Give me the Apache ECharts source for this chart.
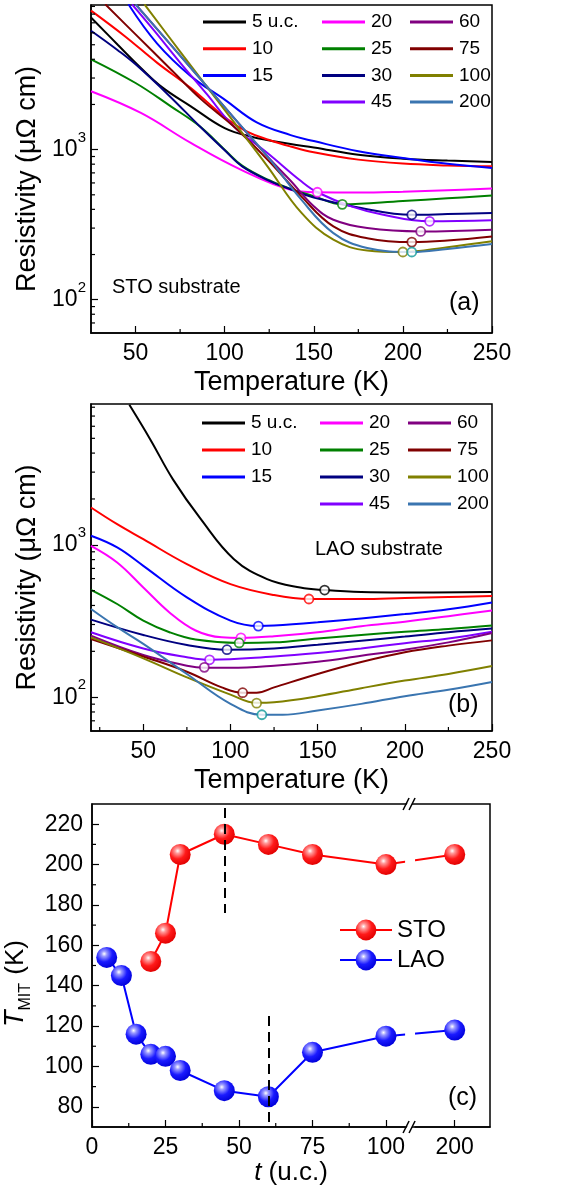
<!DOCTYPE html>
<html>
<head>
<meta charset="utf-8">
<script src="https://cdn.jsdelivr.net/npm/echarts@6/dist/echarts.min.js"></script>
<style>
  html, body { margin: 0; padding: 0; background: #fff; }
  #main { width: 567px; height: 1187px; }
</style>
</head>
<body>
<div id="main"></div>
<script>
const FONT = '"Liberation Sans", Arial, Helvetica, sans-serif';

// film thickness (u.c.) and colours
const thick = [5, 10, 15, 20, 25, 30, 45, 60, 75, 100, 200];
const lineColors = ['#000000', '#ff0000', '#0000ff', '#ff00ff', '#008000', '#000080',
  '#8000ff', '#800080', '#800000', '#808000', '#3a75b0'];
const circleColors = ['#000000', '#ff0000', '#0000ff', '#ff00ff', '#008000', '#000080',
  '#a000ff', '#800080', '#800000', '#808000', '#109a9a'];

// (a) STO substrate, [T (K), rho (uOhm cm)]
const sto5 = [[25, 7600], [40, 5000], [53, 3500], [65, 2600], [81, 1944], [100, 1390], [115, 1220], [137, 1090], [150, 1035], [175, 926], [200, 871], [225, 845], [250, 828]];
const sto10 = [[25, 8440], [44, 5700], [62, 3800], [81, 2570], [100, 1650], [112, 1330], [125, 1160], [137, 1050], [150, 960], [175, 858], [200, 807], [225, 785], [250, 774]];
const sto15 = [[46, 9300], [62, 5110], [81, 3090], [100, 2154], [118, 1520], [137, 1250], [150, 1140], [175, 975], [200, 880], [225, 805], [250, 755]];
const sto20 = [[25, 2450], [53, 1755], [81, 1108], [109, 736], [137, 541], [152, 520], [175, 518], [200, 525], [225, 537], [250, 550]];
const sto25 = [[25, 4000], [50, 2780], [70, 1935], [86, 1430], [100, 1000], [110, 780], [125, 625], [137, 548], [150, 490], [166, 432], [200, 455], [225, 474], [250, 494]];
const sto30 = [[25, 6200], [40, 4600], [50, 3700], [69, 2280], [86, 1430], [100, 990], [110, 770], [125, 620], [137, 545], [150, 480], [175, 412], [205, 368], [225, 372], [250, 378]];
const sto45 = [[48, 9300], [60, 6300], [75, 3800], [90, 2340], [105, 1430], [124, 950], [143, 615], [152, 520], [171, 419], [189, 368], [215, 333], [250, 338]];
const sto60 = [[50, 9300], [75, 4230], [100, 1920], [124, 900], [137, 620], [150, 420], [161, 341], [180, 300], [210, 285], [250, 293]];
const sto75 = [[33, 9300], [50, 5860], [70, 3410], [87, 2154], [105, 1430], [124, 858], [143, 488], [161, 308], [180, 257], [205, 242], [225, 248], [250, 264]];
const sto100 = [[55, 9300], [75, 4500], [90, 2630], [105, 1535], [124, 774], [143, 380], [161, 251], [180, 213], [200, 208], [225, 224], [250, 245]];
const sto200 = [[50, 9300], [75, 4230], [90, 2640], [105, 1640], [124, 903], [143, 464], [161, 278], [180, 221], [205, 208], [225, 218], [250, 235]];

// (b) LAO substrate
const lao5 = [[42, 8300], [54, 4920], [67, 2690], [83, 1473], [102, 805], [121, 596], [140, 525], [154, 505], [175, 490], [200, 487], [250, 490]];
const lao10 = [[20, 1758], [35, 1366], [50, 1089], [75, 747], [100, 552], [125, 468], [145, 441], [175, 441], [200, 448], [225, 455], [250, 461]];
const lao15 = [[20, 1146], [35, 961], [50, 728], [75, 452], [100, 318], [116, 293], [125, 295], [150, 310], [175, 329], [200, 351], [225, 378], [250, 419]];
const lao20 = [[20, 985], [35, 766], [50, 525], [65, 360], [80, 274], [95, 247], [106, 245], [125, 251], [150, 267], [175, 292], [200, 313], [225, 340], [250, 371]];
const lao25 = [[20, 507], [35, 409], [50, 318], [65, 267], [80, 239], [105, 227], [125, 229], [150, 243], [175, 256], [200, 269], [225, 280], [250, 295]];
const lao30 = [[20, 323], [50, 256], [75, 220], [98, 205], [125, 209], [150, 221], [175, 235], [200, 250], [225, 267], [250, 282]];
const lao45 = [[20, 267], [50, 209], [75, 183], [88, 176], [125, 185], [150, 195], [175, 209], [200, 226], [225, 243], [250, 269]];
const lao60 = [[20, 253], [50, 189], [75, 161], [85, 156], [100, 156], [125, 161], [150, 171], [175, 187], [200, 205], [225, 229], [250, 264]];
const lao75 = [[20, 241], [50, 185], [75, 147], [95, 116], [107, 107], [115, 107], [125, 116], [150, 142], [175, 170], [200, 197], [225, 218], [250, 236]];
const lao100 = [[20, 247], [50, 180], [75, 135], [100, 104], [115, 91.8], [125, 92.7], [150, 101.5], [175, 114.6], [200, 128.5], [225, 142], [250, 160]];
const lao200 = [[20, 379], [35, 288], [50, 224], [75, 142], [100, 90.4], [118, 76.6], [130, 76.6], [150, 81.8], [175, 90.4], [200, 101.6], [225, 112], [250, 126]];

// T_MIT, panel (c) and open circles in (a), (b)
const stoThick = [20, 25, 30, 45, 60, 75, 100, 200];
const stoTmit = [152, 166, 205, 215, 210, 205, 200, 205];
const stoRhoMit = [520, 432, 368, 333, 285, 242, 208, 208];
const laoThick = [5, 10, 15, 20, 25, 30, 45, 60, 75, 100, 200];
const laoTmit = [154, 145, 116, 106, 105, 98, 88, 85, 107, 115, 118];
const laoRhoMit = [505, 441, 293, 245, 227, 205, 176, 157, 107, 91.4, 76.7];

// ticks
const xTicksAB = [50, 100, 150, 200, 250];
const xMinorA = [75, 125, 175, 225];
const xMinorB = [25, 75, 125, 175, 225];
const yMinorA = [70, 80, 90, 200, 300, 400, 500, 600, 700, 800, 900, 2000, 3000, 4000, 5000, 6000, 7000, 8000, 9000];
const yMinorB = [70, 80, 90, 200, 300, 400, 500, 600, 700, 800, 900, 2000, 3000, 4000, 5000, 6000, 7000, 8000];
const xTicksC = [0, 25, 50, 75, 100, 200];
const xMinorC = [12.5, 37.5, 62.5, 87.5];
const yTicksC = [80, 100, 120, 140, 160, 180, 200, 220];
const yMinorC = [90, 110, 130, 150, 170, 190, 210];
const breakC = [106.5, 186.5];

// dashed guide lines in (c): t, from, to
const dashT = [45, 60];
const dashFrom = [228, 125];
const dashTo = [176, 70];

const stoCurves = [sto5, sto10, sto15, sto20, sto25, sto30, sto45, sto60, sto75, sto100, sto200];
const laoCurves = [lao5, lao10, lao15, lao20, lao25, lao30, lao45, lao60, lao75, lao100, lao200];

function nameOf(t) { return t === 5 ? '5 u.c.' : String(t); }

function powLabel(v) {
  const e = Math.round(Math.log10(v));
  if (Math.abs(Math.log10(v) - e) > 1e-6) return '';
  return '{b|10}{s|' + e + '}';
}
const powRich = {
  b: { fontSize: 23, fontFamily: FONT, color: '#000', verticalAlign: 'middle' },
  s: { fontSize: 15, fontFamily: FONT, color: '#000', verticalAlign: 'middle', padding: [0, 0, 24, 0] }
};

const axisLine = { show: true, onZero: false, lineStyle: { color: '#000', width: 1.5 } };

function tickSeries(xi, data, dir, len) {
  return {
    type: 'custom', xAxisIndex: xi, yAxisIndex: xi, silent: true, z: 6,
    data: data,
    renderItem: function (params, api) {
      const p = api.coord([api.value(0), api.value(1)]);
      const shape = dir === 'x'
        ? { x1: p[0], y1: p[1], x2: p[0], y2: p[1] - len }
        : { x1: p[0], y1: p[1], x2: p[0] + len, y2: p[1] };
      return { type: 'line', shape: shape, style: { stroke: '#000', lineWidth: 1.2 } };
    }
  };
}

function resXAxis(gi, min) {
  return {
    gridIndex: gi, type: 'value', min: min, max: 250,
    axisLine: axisLine,
    axisTick: { customValues: xTicksAB, inside: true, length: 7, lineStyle: { color: '#000', width: 1.2 } },
    axisLabel: { customValues: xTicksAB, fontSize: 23, color: '#000', margin: 9, fontFamily: FONT },
    splitLine: { show: false },
    name: 'Temperature (K)', nameLocation: 'middle', nameGap: 36,
    nameTextStyle: { fontSize: 27, color: '#000', fontFamily: FONT }
  };
}
function resYAxis(gi, max) {
  return {
    gridIndex: gi, type: 'log', logBase: 10, min: 60, max: max,
    axisLine: axisLine,
    axisTick: { inside: true, length: 7, lineStyle: { color: '#000', width: 1.2 } },
    axisLabel: { formatter: powLabel, rich: powRich, margin: 5, showMinLabel: false, showMaxLabel: false },
    splitLine: { show: false },
    name: 'Resistivity (\u03bc\u03a9 cm)', nameLocation: 'middle', nameGap: 48,
    nameTextStyle: { fontSize: 27, color: '#000', fontFamily: FONT, padding: [0, 20, 0, 0] }
  };
}

const series = [];
[stoCurves, laoCurves].forEach(function (curves, gi) {
  curves.forEach(function (d, i) {
    series.push({
      name: nameOf(thick[i]), type: 'line', xAxisIndex: gi, yAxisIndex: gi,
      data: d, smooth: 0.4, symbol: 'none', z: 3,
      lineStyle: { color: lineColors[i], width: 2 }, itemStyle: { color: lineColors[i] }
    });
  });
});

function circles(gi, th, tm, rho) {
  return {
    name: 'mit' + gi, type: 'scatter', xAxisIndex: gi, yAxisIndex: gi, z: 4,
    symbol: 'circle', symbolSize: 9,
    data: th.map(function (t, i) {
      const c = circleColors[thick.indexOf(t)];
      return { value: [tm[i], rho[i]], itemStyle: { color: '#fff', borderColor: c, borderWidth: 1.8 } };
    })
  };
}
series.push(circles(0, stoThick, stoTmit, stoRhoMit));
series.push(circles(1, laoThick, laoTmit, laoRhoMit));

function ball(c0, c1, c2) {
  return {
    type: 'radial', x: 0.38, y: 0.33, r: 0.7,
    colorStops: [{ offset: 0, color: '#ffffff' }, { offset: 0.18, color: c0 }, { offset: 0.55, color: c1 }, { offset: 1, color: c2 }]
  };
}
series.push({
  name: 'STO', type: 'line', xAxisIndex: 2, yAxisIndex: 2, z: 4,
  data: stoThick.map(function (t, i) { return [t, stoTmit[i]]; }),
  symbol: 'circle', symbolSize: 21,
  lineStyle: { color: '#ff0000', width: 2 },
  itemStyle: { color: ball('#ff9a9a', '#ff1a1a', '#e00000') },
  markLine: {
    symbol: 'none', silent: true, label: { show: false },
    lineStyle: { color: '#000', width: 2, type: [10, 6] },
    data: dashT.map(function (t, i) { return [{ coord: [t, dashFrom[i]] }, { coord: [t, dashTo[i]] }]; })
  }
});
series.push({
  name: 'LAO', type: 'line', xAxisIndex: 2, yAxisIndex: 2, z: 4,
  data: laoThick.map(function (t, i) { return [t, laoTmit[i]]; }),
  symbol: 'circle', symbolSize: 21,
  lineStyle: { color: '#0000ff', width: 2 },
  itemStyle: { color: ball('#9a9aff', '#1a1aff', '#0000d8') }
});

series.push(tickSeries(0, xMinorA.map(function (v) { return [v, 60]; }), 'x', 4));
series.push(tickSeries(0, yMinorA.map(function (v) { return [25, v]; }), 'y', 4));
series.push(tickSeries(1, xMinorB.map(function (v) { return [v, 60]; }), 'x', 4));
series.push(tickSeries(1, yMinorB.map(function (v) { return [20, v]; }), 'y', 4));
series.push(tickSeries(2, xMinorC.map(function (v) { return [v, 70]; }), 'x', 4));
series.push(tickSeries(2, yMinorC.map(function (v) { return [0, v]; }), 'y', 4));

const legCols = [[5, 10, 15], [20, 25, 30, 45], [60, 75, 100, 200]];
const legLeftA = [198, 317, 405];
const legLeftB = [197, 315, 403];
const legends = [];
[[legLeftA, 7.5, 7.7], [legLeftB, 408.5, 8]].forEach(function (cfg) {
  legCols.forEach(function (col, k) {
    legends.push({
      orient: 'vertical', left: cfg[0][k], top: cfg[1], itemWidth: 43, itemHeight: 3, itemGap: cfg[2],
      icon: 'rect', data: col.map(nameOf), selectedMode: false,
      textStyle: { fontSize: 19, lineHeight: 14, color: '#000', fontFamily: FONT, padding: [0, 0, 0, 1] }
    });
  });
});
legends.push({
  orient: 'vertical', left: 334, top: 913, itemWidth: 52, itemHeight: 26, itemGap: 6,
  data: ['STO', 'LAO'], selectedMode: false,
  textStyle: { fontSize: 24, color: '#000', fontFamily: FONT }
});

const gridBase = { show: true, borderColor: '#000', borderWidth: 1.5, backgroundColor: 'transparent', containLabel: false, outerBoundsMode: 'none' };

const option = {
  animation: false,
  textStyle: { fontFamily: FONT, color: '#000' },
  grid: [
    Object.assign({ left: 91, right: 75, top: 5, height: 328 }, gridBase),
    Object.assign({ left: 91, right: 75, top: 404, height: 327 }, gridBase),
    Object.assign({ left: 92, right: 77, top: 804, height: 323 }, gridBase)
  ],
  xAxis: [
    resXAxis(0, 25),
    resXAxis(1, 20),
    {
      gridIndex: 2, type: 'value', min: 0, max: 212,
      breaks: [{ start: breakC[0], end: breakC[1], gap: '2.5%' }],
      breakArea: { show: false },
      axisLine: axisLine,
      axisTick: { customValues: xTicksC, inside: true, length: 7, lineStyle: { color: '#000', width: 1.2 } },
      axisLabel: { customValues: xTicksC, fontSize: 23, color: '#000', margin: 9, fontFamily: FONT },
      splitLine: { show: false },
      name: '{i|t} (u.c.)', nameLocation: 'middle', nameGap: 32,
      nameTextStyle: { fontSize: 26, color: '#000', fontFamily: FONT, rich: { i: { fontSize: 26, fontStyle: 'italic', fontFamily: FONT } } }
    }
  ],
  yAxis: [
    resYAxis(0, 9200),
    resYAxis(1, 8400),
    {
      gridIndex: 2, type: 'value', min: 70, max: 230,
      axisLine: axisLine,
      axisTick: { customValues: yTicksC, inside: true, length: 7, lineStyle: { color: '#000', width: 1.2 } },
      axisLabel: { customValues: yTicksC, fontSize: 23, color: '#000', margin: 9, fontFamily: FONT },
      splitLine: { show: false },
      name: '{i|T}{s|MIT}{n| (K)}', nameLocation: 'middle', nameGap: 50,
      nameTextStyle: {
        fontSize: 26, color: '#000', fontFamily: FONT, padding: [0, 36, 0, 0],
        rich: {
          i: { fontSize: 27, fontStyle: 'italic', fontFamily: FONT },
          s: { fontSize: 16, fontFamily: FONT, padding: [20, 1, 0, 0] },
          n: { fontSize: 26, fontFamily: FONT }
        }
      }
    }
  ],
  legend: legends,
  series: series,
  graphic: [
    { type: 'text', left: 112, top: 277, style: { text: 'STO substrate', fontSize: 20, fontFamily: FONT, fill: '#000' } },
    { type: 'text', left: 449, top: 291, style: { text: '(a)', fontSize: 25, fontFamily: FONT, fill: '#000' } },
    { type: 'text', left: 315, top: 539, style: { text: 'LAO substrate', fontSize: 20, fontFamily: FONT, fill: '#000' } },
    { type: 'text', left: 448, top: 693, style: { text: '(b)', fontSize: 25, fontFamily: FONT, fill: '#000' } },
    { type: 'text', left: 448, top: 1086, style: { text: '(c)', fontSize: 25, fontFamily: FONT, fill: '#000' } }
  ]
};

const chart = echarts.init(document.getElementById('main'));
chart.setOption(option);

// axis break marks in (c) and the cut in the two lines
let bx1 = chart.convertToPixel({ xAxisIndex: 2 }, breakC[0]);
let bx2 = chart.convertToPixel({ xAxisIndex: 2 }, breakC[1]);
const yTop = chart.convertToPixel({ yAxisIndex: 2 }, 230);
const yBot = chart.convertToPixel({ yAxisIndex: 2 }, 70);
if (!isFinite(bx1) || !isFinite(bx2)) {
  const p100 = chart.convertToPixel({ xAxisIndex: 2 }, 100);
  bx1 = p100 + 17; bx2 = p100 + 27;
}
const cx = (bx1 + bx2) / 2;
const marks = [];
[[stoThick, stoTmit], [laoThick, laoTmit]].forEach(function (s) {
  const ya = chart.convertToPixel({ yAxisIndex: 2 }, s[1][s[0].indexOf(100)]);
  const yb = chart.convertToPixel({ yAxisIndex: 2 }, s[1][s[0].indexOf(200)]);
  const ym = (ya + yb) / 2;
  marks.push({ type: 'rect', z: 50, silent: true, shape: { x: bx1, y: ym - 7, width: bx2 - bx1, height: 14 }, style: { fill: '#fff' } });
});
[yTop, yBot].forEach(function (y0) {
  marks.push({ type: 'polygon', z: 51, silent: true, shape: { points: [[cx - 6, y0 + 6], [cx, y0 - 6], [cx + 5, y0 - 6], [cx - 1, y0 + 6]] }, style: { fill: '#fff' } });
  marks.push({ type: 'line', z: 52, silent: true, shape: { x1: cx - 7, y1: y0 + 6, x2: cx - 1, y2: y0 - 6 }, style: { stroke: '#000', lineWidth: 1.5 } });
  marks.push({ type: 'line', z: 52, silent: true, shape: { x1: cx - 1, y1: y0 + 6, x2: cx + 5, y2: y0 - 6 }, style: { stroke: '#000', lineWidth: 1.5 } });
});
chart.setOption({ graphic: option.graphic.concat(marks) });
</script>
</body>
</html>
